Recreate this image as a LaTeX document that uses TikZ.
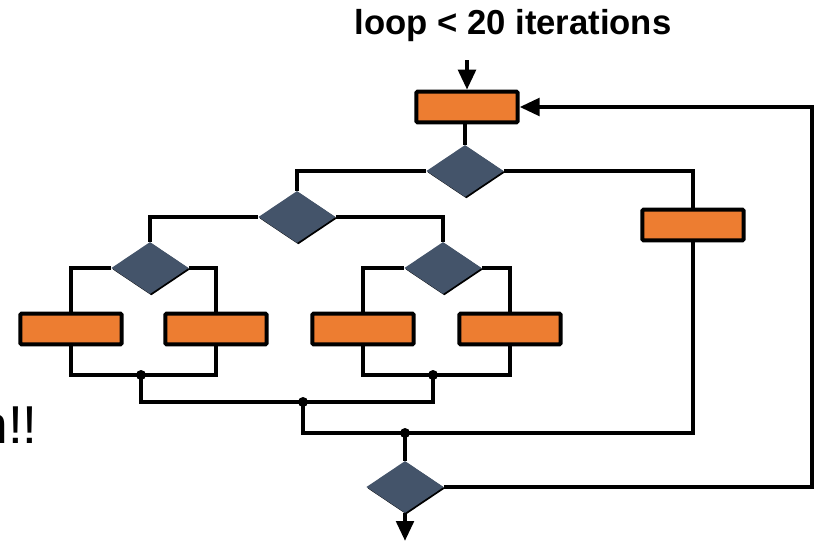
\documentclass[tikz,border=0pt]{standalone}
\usepackage{fontspec}
\setmainfont{Liberation Sans}
\usetikzlibrary{shapes.geometric,arrows.meta,shadows}
\definecolor{boxorange}{RGB}{237,125,49}
\definecolor{dslate}{RGB}{68,84,106}
\begin{document}
\begin{tikzpicture}[x=0.75pt,y=-0.75pt,
 wire/.style={line width=3.2pt},
 flowbox/.style={draw=black,line width=2.9pt,fill=boxorange,minimum width=76pt,minimum height=23pt,inner sep=0pt,rounded corners=0.8pt},
 decide/.style={diamond,fill=dslate,minimum width=58pt,minimum height=39pt,inner sep=0pt,general shadow={fill=black,shadow xshift=1pt,shadow yshift=-1pt}},
 tip/.style={-{Triangle[width=13pt,length=15pt]}},
 joint/.style={circle,fill=black,inner sep=0pt,minimum size=7.5pt}]
\useasboundingbox (0,0) rectangle (820,543);

% text
\node[font=\fontsize{26}{30}\bfseries\selectfont, anchor=base, inner sep=0pt] (title) at (513,34) {loop < 20 iterations};
\node[font=\fontsize{40}{48}\selectfont, anchor=base east, inner sep=0pt] (frag) at (38,443) {n!!};

% boxes
\node[flowbox] (B0) at (467,107) {};
\node[flowbox] (R)  at (693,225) {};
\node[flowbox] (B1) at (71,329) {};
\node[flowbox] (B2) at (216,329) {};
\node[flowbox] (B3) at (363,329) {};
\node[flowbox] (B4) at (510,329) {};

% decisions
\node[decide] (D1) at (465,171) {};
\node[decide] (D2) at (297,217) {};
\node[decide] (D3) at (150,268) {};
\node[decide] (D4) at (443,268) {};
\node[decide] (D5) at (405,487) {};

% joints
\node[joint] (J1) at (141,375) {};
\node[joint] (J2) at (433,375) {};
\node[joint] (J3) at (303,402) {};
\node[joint] (J4) at (405,433) {};

\coordinate (in)  at (467,60);
\coordinate (out) at (405,541);
\coordinate (LC)  at (812,487);

% connectors
\draw[wire,tip] (in) -- (B0.north);
\draw[wire] (B0.south -| D1.north) -- (D1.north);
\draw[wire] (D1.west) -| (D2.north);
\draw[wire] (D1.east) -| (R.north);
\draw[wire] (D2.west) -| (D3.north);
\draw[wire] (D2.east) -| (D4.north);
\draw[wire] (D3.west) -| (B1.north);
\draw[wire] (D3.east) -| (B2.north);
\draw[wire] (D4.west) -| (B3.north);
\draw[wire] (D4.east) -| (B4.north);

\draw[wire] (B1.south) |- (J1.center);
\draw[wire] (B2.south) |- (J1.center);
\draw[wire] (B3.south) |- (J2.center);
\draw[wire] (B4.south) |- (J2.center);
\draw[wire] (J1.center) |- (J3.center);
\draw[wire] (J2.center) |- (J3.center);
\draw[wire] (J3.center) |- (J4.center);
\draw[wire] (R.south) |- (J4.center);
\draw[wire] (J4.center) -- (D5.north);
\draw[wire,tip] (D5.south) -- (out);
\draw[wire,tip] (D5.east) -- (LC) |- (B0.east);
\end{tikzpicture}
\end{document}
